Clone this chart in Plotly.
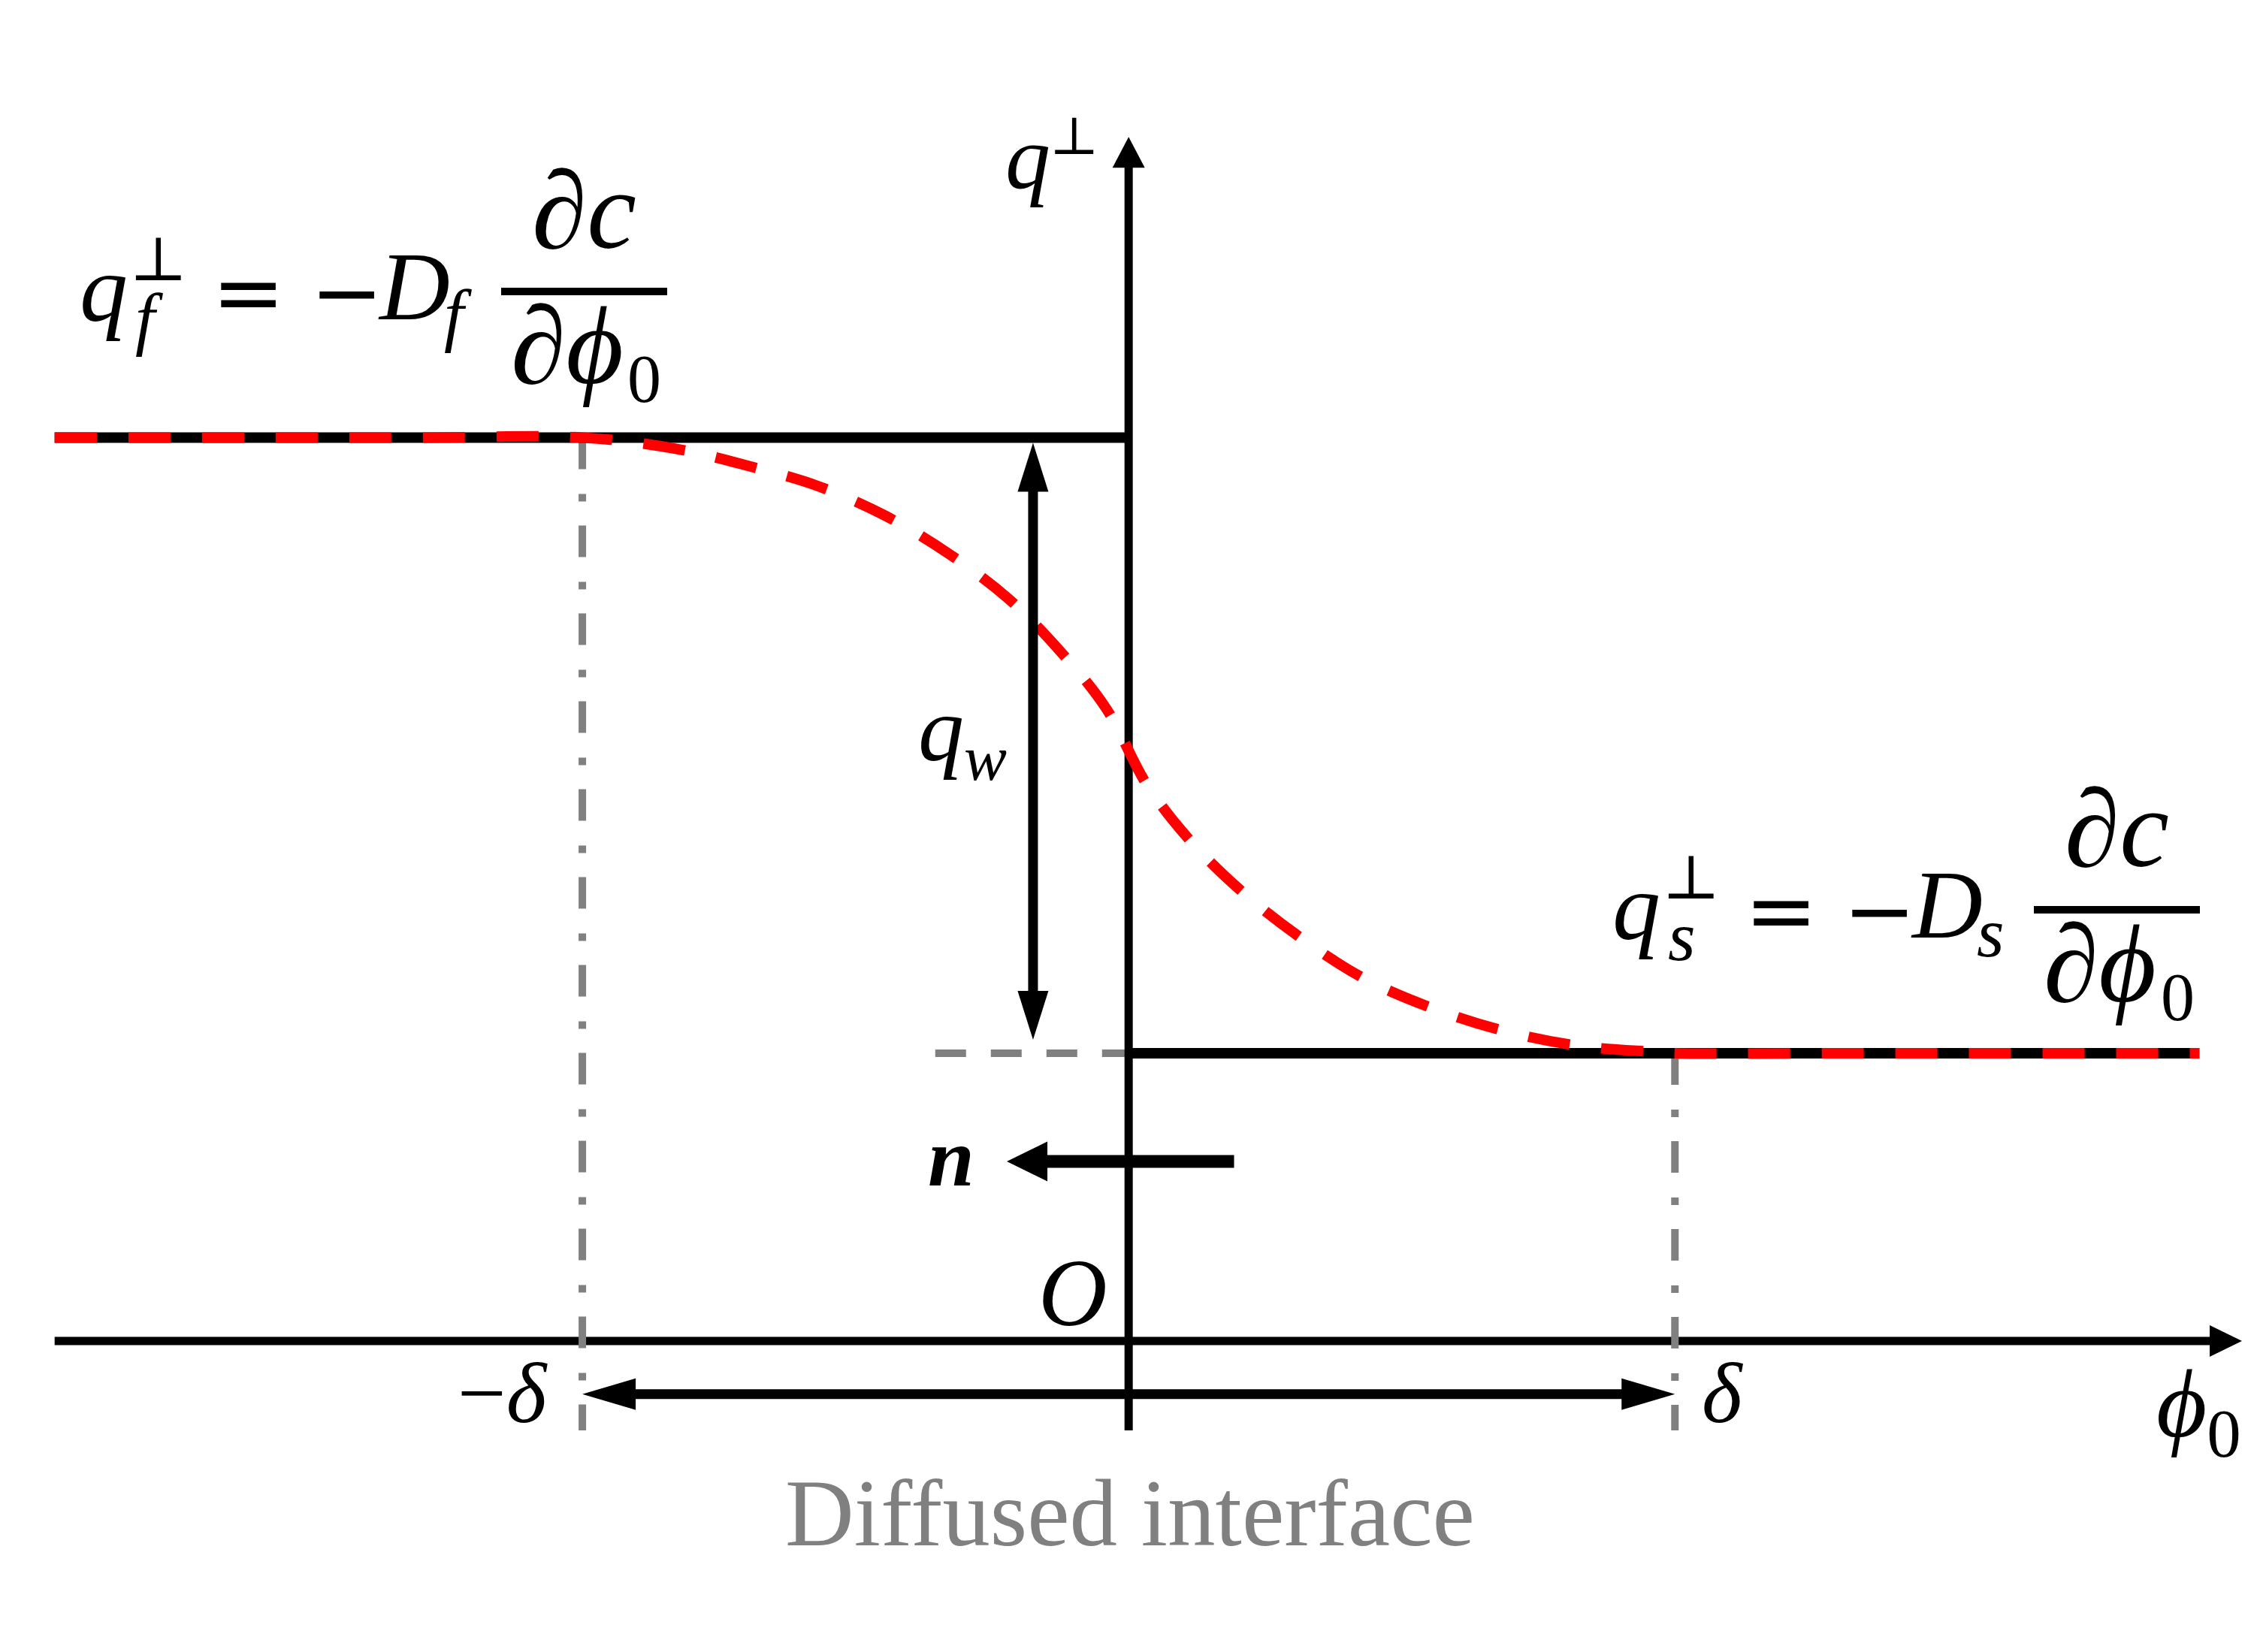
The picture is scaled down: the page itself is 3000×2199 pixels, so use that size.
import plotly.graph_objects as go

# ---------------- data ----------------
delta = 1.0                       # half width of the diffused interface
q_f = 3.14                        # fluid-side flux level
q_s = 1.0                         # solid-side flux level
phi_min, phi_max = -1.966, 1.960  # extent of the flux levels

# red dashed smoothed flux profile
phi_curve = [-1.966, -1.30, -1.0, -0.831, -0.697, -0.568, -0.444, -0.329, -0.220, -0.125,
             -0.041, 0.034, 0.118, 0.216, 0.322, 0.433, 0.560, 0.691, 0.823, 0.960,
             1.0, 1.30, 1.960]
q_curve = [3.14, 3.14, 3.14, 3.102, 3.042, 2.971, 2.867, 2.736, 2.580, 2.397,
           2.198, 1.932, 1.728, 1.548, 1.392, 1.258, 1.154, 1.076, 1.026, 1.005,
           1.0, 1.0, 1.0]

# ---------------- frame ----------------
W, H = 3000, 2199
XR = [-2.066, 2.060]
YR = [-1.081, 4.661]
UX = (XR[1] - XR[0]) / W
UY = (YR[1] - YR[0]) / H

phi_axis_end = 2.038
q_axis_top = 4.185
axis_bottom = -0.311
qw_phi = -0.175
interface_q = -0.185
n_q = 0.624
n_tail, n_tip = 0.193, -0.223
gray_dash_start = -0.354

BLACK = "black"
GRAY = "#808080"
RED = "#ff0000"
SERIF = "Liberation Serif"

fig = go.Figure()


def seg(x, y, color, width, dash="solid", shape="linear"):
    fig.add_trace(go.Scatter(x=x, y=y, mode="lines",
                             line=dict(color=color, width=width, dash=dash, shape=shape),
                             hoverinfo="skip", showlegend=False))


def head(tx, ty, d, L, B):
    lx, ly, bx, by = L * UX, L * UY, B / 2 * UX, B / 2 * UY
    if d == "right":
        pts = [(tx, ty), (tx - lx, ty + by), (tx - lx, ty - by)]
    elif d == "left":
        pts = [(tx, ty), (tx + lx, ty + by), (tx + lx, ty - by)]
    elif d == "up":
        pts = [(tx, ty), (tx - bx, ty - ly), (tx + bx, ty - ly)]
    else:
        pts = [(tx, ty), (tx - bx, ty + ly), (tx + bx, ty + ly)]
    path = "M {} {} L {} {} L {} {} Z".format(*[v for p in pts for v in p])
    fig.add_shape(type="path", path=path, xref="x", yref="y",
                  fillcolor=BLACK, line=dict(width=0))


# x axis
seg([phi_min, phi_axis_end - 40 * UX], [0, 0], BLACK, 11)
head(phi_axis_end, 0, "right", 43, 42)

# gray guide lines
seg([-delta, -delta], [q_f, axis_bottom], GRAY, 10, dash="42px,33px,10px,32px")
seg([delta, delta], [q_s, axis_bottom], GRAY, 10, dash="42px,33px,10px,32px")
seg([gray_dash_start, 0], [q_s, q_s], GRAY, 10, dash="41px,33px")

# flux levels
seg([phi_min, 0], [q_f, q_f], BLACK, 14)
seg([0, phi_max], [q_s, q_s], BLACK, 14)

# y axis
seg([0, 0], [axis_bottom, q_axis_top - 38 * UY], BLACK, 11)
head(0, q_axis_top, "up", 41, 43)

# smoothed profile
seg(phi_curve, q_curve, RED, 14, dash="56px,42px", shape="spline")

# q_w double arrow
top_tip = q_f - 7 * UY
bot_tip = q_s + 18 * UY
seg([qw_phi, qw_phi], [bot_tip + 60 * UY, top_tip - 60 * UY], BLACK, 13)
head(qw_phi, top_tip, "up", 65, 41)
head(qw_phi, bot_tip, "down", 65, 41)

# interface double arrow
seg([-delta + 66 * UX, delta - 66 * UX], [interface_q, interface_q], BLACK, 13)
head(-delta, interface_q, "left", 71, 42)
head(delta, interface_q, "right", 71, 42)

# normal vector n
seg([n_tail, n_tip + 50 * UX], [n_q, n_q], BLACK, 17)
head(n_tip, n_q, "left", 54, 53)


# ---------------- text ----------------
def label(text, cx, baseline, size, family=SERIF, color=BLACK, asc=0.3375, center=None):
    yc = center if center is not None else baseline - asc * size
    fig.add_annotation(x=cx / W, y=1 - yc / H, xref="paper", yref="paper",
                       text=text, showarrow=False,
                       font=dict(family=family, size=size, color=color),
                       xanchor="center", yanchor="middle")


def bar(x0, x1, y):
    fig.add_shape(type="line", xref="paper", yref="paper",
                  x0=x0 / W, x1=x1 / W, y0=1 - y / H, y1=1 - y / H,
                  line=dict(color=BLACK, width=10))


def formula(ox, oy, sub):
    label("<i>q</i>", 138 + ox, 427 + oy, 128)
    label("⊥", 210 + ox, 373 + oy, 82, family="DejaVu Serif", asc=0.346)
    label("<i>%s</i>" % sub, 198 + ox, 455 + oy, 94)
    label("=", 330 + ox, 0, 116, family="DejaVu Sans", center=388 + oy)
    label("−", 461 + ox, 0, 116, family="DejaVu Sans", center=388 + oy)
    label("<i>D</i>", 551 + ox, 425 + oy, 130)
    label("<i>%s</i>" % sub, 609 + ox, 450 + oy, 94)
    bar(667 + ox, 888 + ox, 388 + oy)
    label("∂<i>c</i>", 777 + ox, 330 + oy, 148)
    label("∂<i>ϕ</i>", 755 + ox, 510 + oy, 148)
    label("0", 858 + ox, 535 + oy, 90)


formula(0, 0, "f")
formula(2040, 823, "s")

label("<i>q</i>", 1368, 250, 120)
label("⊥", 1430, 205, 70, family="DejaVu Serif", asc=0.346)
label("<i>q</i><sub><i>w</i></sub>", 1281, 1021, 122)
label("<b><i>n</i></b>", 1266, 1578, 111)
label("<i>O</i>", 1428, 1764, 127)
label("−<i>δ</i>", 669, 1893, 115)
label("<i>δ</i>", 2292, 1893, 115)
label("<i>ϕ</i><sub>0</sub>", 2926, 1921, 130)
label("Diffused interface", 1504, 2057, 127, color=GRAY)

fig.update_layout(
    width=W, height=H,
    margin=dict(l=0, r=0, t=0, b=0),
    paper_bgcolor="white", plot_bgcolor="white",
    showlegend=False,
    xaxis=dict(range=XR, visible=False, fixedrange=True),
    yaxis=dict(range=YR, visible=False, fixedrange=True),
)

fig.write_html("out.html", config={"displayModeBar": False},
               post_script="document.body.style.margin='0px';")
